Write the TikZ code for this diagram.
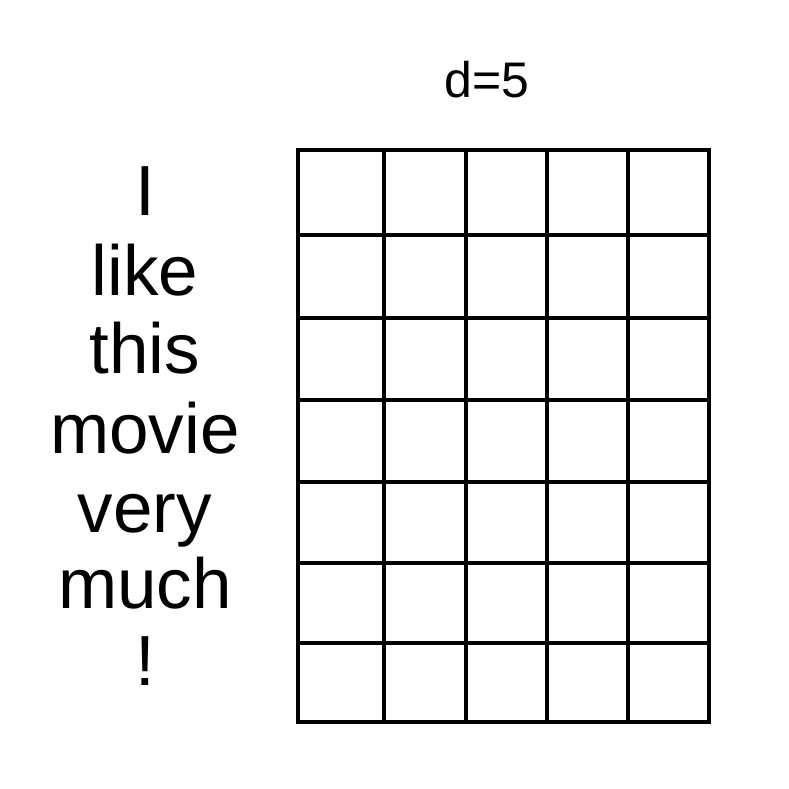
\documentclass[tikz,border=0pt]{standalone}
\usepackage{fontspec}
\setmainfont{Liberation Sans}
\begin{document}
\begin{tikzpicture}[x=1pt,y=-1pt,
  gridline/.style={line width=4.3pt,line cap=rect,black},
  word/.style={anchor=base,inner sep=0pt,font=\fontsize{71}{78}\selectfont},
  dimlabel/.style={anchor=base,inner sep=0pt,font=\fontsize{50}{54}\selectfont}]
\useasboundingbox[fill=white] (0,0) rectangle (789,788);
% grid
\foreach \x in {298,384,466,547,628,709}
  \draw[gridline] (\x,150) -- (\x,722);
\foreach \y in {150,235,318,400,482,563,643,722}
  \draw[gridline] (298,\y) -- (709,\y);
% label
\node[dimlabel] (d) at (487,97) {d=5};
% words
\node[word] (w1) at (145,215) {I};
\node[word] (w2) at (145,295) {like};
\node[word] (w3) at (145,373) {this};
\node[word] (w4) at (145,453) {movie};
\node[word] (w5) at (145,532) {very};
\node[word] (w6) at (145,608) {much};
\node[word] (w7) at (145,685) {!};
\end{tikzpicture}
\end{document}
